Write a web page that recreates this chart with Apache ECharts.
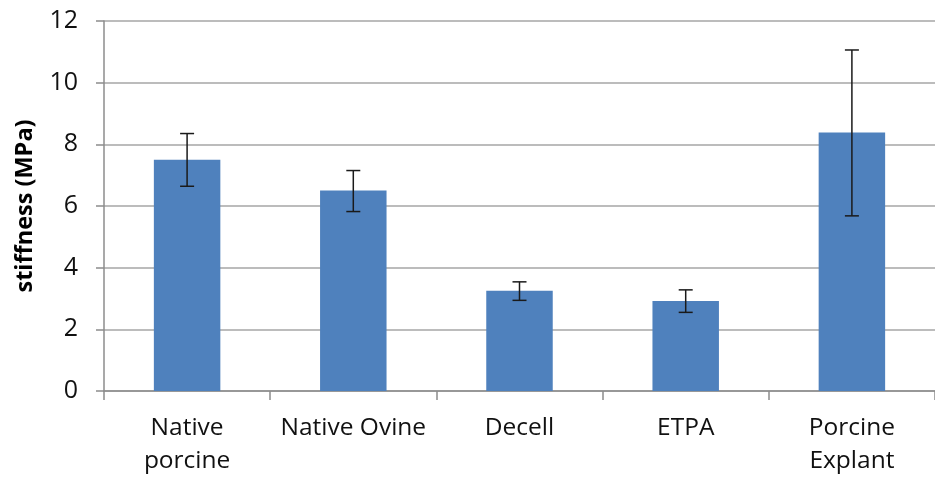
<!DOCTYPE html>
<html>
<head>
<meta charset="utf-8">
<script src="https://cdn.jsdelivr.net/npm/echarts@6/dist/echarts.min.js"></script>
<style>
  html, body { margin: 0; padding: 0; background: #fff; }
  #chart { width: 935px; height: 478px; }
</style>
</head>
<body>
<div id="chart"></div>
<script>
  // values
  const categories = ['Native\nporcine', 'Native Ovine', 'Decell', 'ETPA', 'Porcine\nExplant'];
  const stiffness = [7.5, 6.5, 3.25, 2.92, 8.38];
  const errLow = [6.64, 5.82, 2.94, 2.55, 5.68];
  const errHigh = [8.35, 7.15, 3.54, 3.28, 11.06];
  const yTicks = [0, 2, 4, 6, 8, 10, 12];

  const font = '"Open Sans", "Noto Sans", sans-serif';
  const chart = echarts.init(document.getElementById('chart'));

  const errData = categories.map((c, i) => [i, errLow[i], errHigh[i]]);

  const option = {
    animation: false,
    grid: {
      left: 104,
      top: 21,
      width: 840,
      height: 372
    },
    xAxis: {
      type: 'category',
      data: categories,
      boundaryGap: true,
      axisLine: { show: true, lineStyle: { color: '#8c8c8c', width: 1.5 } },
      axisTick: { show: true, length: 9, lineStyle: { color: '#8c8c8c', width: 1.5 } },
      axisLabel: {
        color: '#111',
        fontFamily: font,
        fontSize: 24.5,
        lineHeight: 33,
        margin: 21,
        interval: 0
      }
    },
    yAxis: {
      type: 'value',
      min: yTicks[0],
      max: yTicks[yTicks.length - 1],
      interval: 2,
      name: 'stiffness (MPa)',
      nameLocation: 'middle',
      nameGap: 67,
      nameTextStyle: {
        color: '#000',
        fontFamily: font,
        fontSize: 23.5,
        fontWeight: 'bold'
      },
      axisLine: { show: true, lineStyle: { color: '#8c8c8c', width: 1.5 } },
      axisTick: { show: true, length: 8, lineStyle: { color: '#8c8c8c', width: 1.5 } },
      axisLabel: {
        color: '#111',
        fontFamily: font,
        fontSize: 25,
        margin: 26
      },
      splitLine: { show: true, lineStyle: { color: '#a6a6a6', width: 1.5 } }
    },
    series: [
      {
        name: 'stiffness',
        type: 'bar',
        barWidth: '40%',
        itemStyle: { color: '#4f81bd' },
        data: stiffness
      },
      {
        name: 'error',
        type: 'custom',
        z: 10,
        renderItem: function (params, api) {
          const x = api.value(0);
          const lo = api.coord([x, api.value(1)]);
          const hi = api.coord([x, api.value(2)]);
          const half = 7;
          const style = { stroke: '#1a1a1a', lineWidth: 1.5 };
          return {
            type: 'group',
            children: [
              { type: 'line', shape: { x1: lo[0], y1: lo[1], x2: hi[0], y2: hi[1] }, style: style },
              { type: 'line', shape: { x1: hi[0] - half, y1: hi[1], x2: hi[0] + half, y2: hi[1] }, style: style },
              { type: 'line', shape: { x1: lo[0] - half, y1: lo[1], x2: lo[0] + half, y2: lo[1] }, style: style }
            ]
          };
        },
        data: errData
      }
    ]
  };

  chart.setOption(option);
  window.addEventListener('resize', function () {
    chart.resize();
  });
</script>
</body>
</html>
